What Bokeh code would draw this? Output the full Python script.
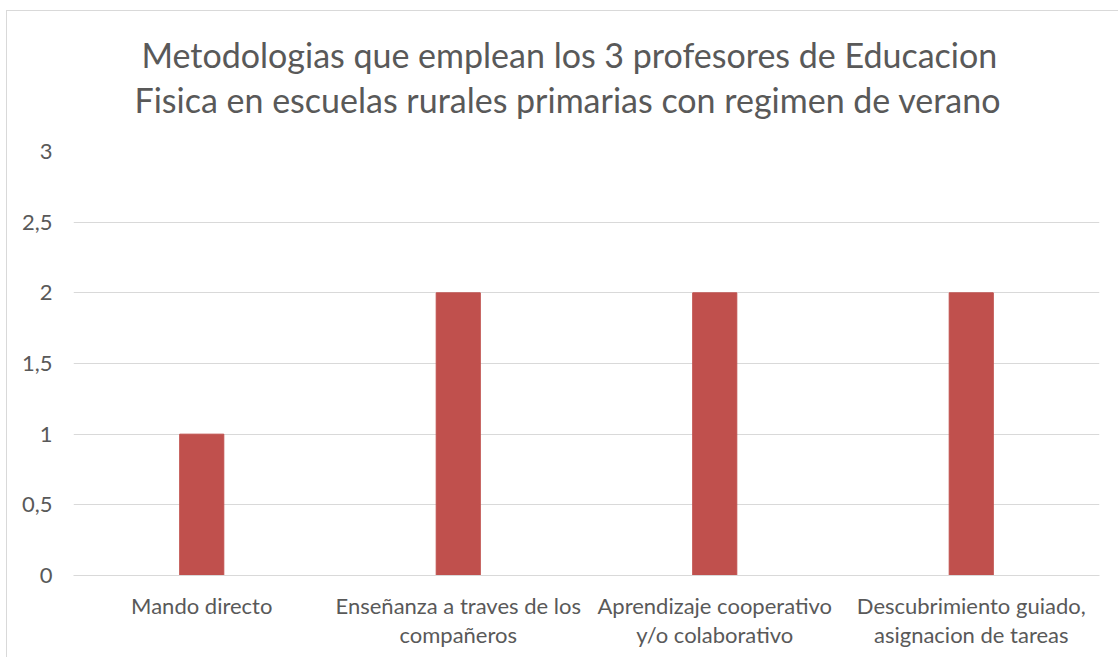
from bokeh.plotting import figure
from bokeh.models import Title, FixedTicker, CustomJSTickFormatter, Range1d
from bokeh.embed import file_html
from bokeh.resources import INLINE

title_lines = ["Metodologias que emplean los 3 profesores de Educacion",
               "Fisica en escuelas rurales primarias con regimen de verano"]
categories = ["Mando directo",
              "Enseñanza a traves de los\ncompañeros",
              "Aprendizaje cooperativo\ny/o colaborativo",
              "Descubrimiento guiado,\nasignacion de tareas"]
values = [1, 2, 2, 2]
y_ticks = [0, 0.5, 1, 1.5, 2, 2.5, 3]

FONT = "Lato"
TXT = "#595959"
GRID = "#D9D9D9"
BAR = "#C0504D"

bg = ("linear-gradient(#D9D9D9,#D9D9D9) 6px 10px / 1px 100% no-repeat, "
      "linear-gradient(#D9D9D9,#D9D9D9) 6px 10px / 100% 1px no-repeat, #FFFFFF")

p = figure(x_range=categories, y_range=Range1d(0, 3), width=1118, height=657,
           output_backend="svg", toolbar_location=None,
           min_border_left=73, min_border_right=19, min_border_top=151, min_border_bottom=82,
           styles={"background": bg})
p.background_fill_color = None
p.border_fill_color = None

p.vbar(x=categories, top=values, width=0.172, color=BAR)

# spacer between the plot area and the two title lines
p.add_layout(Title(text=" ", text_font_size="1px", standoff=29), "above")
title_offsets = [68, 61]
title_standoffs = [4, 0]
for line, off, so in reversed(list(zip(title_lines, title_offsets, title_standoffs))):
    p.add_layout(Title(text=line, align="left", offset=off, standoff=so,
                       text_font=FONT, text_font_size="34px", text_color=TXT,
                       text_font_style="normal"), "above")

p.outline_line_color = None
p.xgrid.grid_line_color = None
p.ygrid.grid_line_color = GRID
p.ygrid.grid_line_width = 1
p.ygrid.ticker = FixedTicker(ticks=y_ticks)

p.yaxis.ticker = FixedTicker(ticks=y_ticks)
p.yaxis.formatter = CustomJSTickFormatter(code="return tick.toString().replace('.', ',');")
p.yaxis.axis_line_color = None
p.yaxis.major_tick_line_color = None
p.yaxis.minor_tick_line_color = None
p.yaxis.major_tick_out = 0
p.yaxis.major_tick_in = 0
p.yaxis.minor_tick_out = 0
p.yaxis.major_label_standoff = 21
p.yaxis.major_label_text_font = FONT
p.yaxis.major_label_text_font_size = "22px"
p.yaxis.major_label_text_color = TXT

p.xaxis.axis_line_color = GRID
p.xaxis.major_tick_line_color = None
p.xaxis.minor_tick_line_color = None
p.xaxis.major_tick_out = 0
p.xaxis.major_tick_in = 0
p.xaxis.minor_tick_out = 0
p.xaxis.major_label_standoff = 16
p.xaxis.major_label_text_font = FONT
p.xaxis.major_label_text_font_size = "22px"
p.xaxis.major_label_text_line_height = 1.09
p.xaxis.major_label_text_color = TXT
p.x_range.range_padding = 0

open("out.html", "w").write(file_html(p, INLINE))
